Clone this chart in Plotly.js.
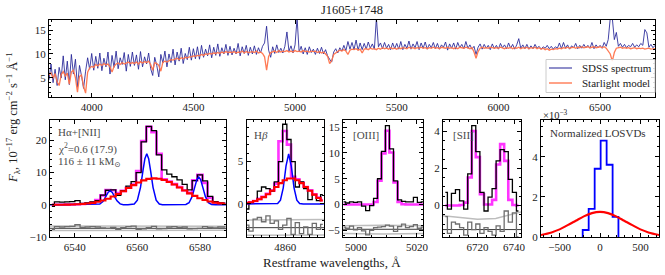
<!DOCTYPE html>
<html><head><meta charset="utf-8">
<script src="https://cdn.plot.ly/plotly-3.0.1.min.js"></script>
<style>html,body{margin:0;padding:0;background:#fff}#chart{width:665px;height:275px}</style>
</head><body><div id="chart"></div>
<script>
// ---------- top panel: full spectrum (10 A sampling) ----------
const specWl = [3790,3800,3810,3820,3830,3840,3850,3860,3870,3880,
3890,3900,3910,3920,3930,3940,3950,3960,3970,3980,
3990,4000,4010,4020,4030,4040,4050,4060,4070,4080,
4090,4100,4110,4120,4130,4140,4150,4160,4170,4180,
4190,4200,4210,4220,4230,4240,4250,4260,4270,4280,
4290,4300,4310,4320,4330,4340,4350,4360,4370,4380,
4390,4400,4410,4420,4430,4440,4450,4460,4470,4480,
4490,4500,4510,4520,4530,4540,4550,4560,4570,4580,
4590,4600,4610,4620,4630,4640,4650,4660,4670,4680,
4690,4700,4710,4720,4730,4740,4750,4760,4770,4780,
4790,4800,4810,4820,4830,4840,4850,4860,4870,4880,
4890,4900,4910,4920,4930,4940,4950,4960,4970,4980,
4990,5000,5010,5020,5030,5040,5050,5060,5070,5080,
5090,5100,5110,5120,5130,5140,5150,5160,5170,5180,
5190,5200,5210,5220,5230,5240,5250,5260,5270,5280,
5290,5300,5310,5320,5330,5340,5350,5360,5370,5380,
5390,5400,5410,5420,5430,5440,5450,5460,5470,5480,
5490,5500,5510,5520,5530,5540,5550,5560,5570,5580,
5590,5600,5610,5620,5630,5640,5650,5660,5670,5680,
5690,5700,5710,5720,5730,5740,5750,5760,5770,5780,
5790,5800,5810,5820,5830,5840,5850,5860,5870,5880,
5890,5900,5910,5920,5930,5940,5950,5960,5970,5980,
5990,6000,6010,6020,6030,6040,6050,6060,6070,6080,
6090,6100,6110,6120,6130,6140,6150,6160,6170,6180,
6190,6200,6210,6220,6230,6240,6250,6260,6270,6280,
6290,6300,6310,6320,6330,6340,6350,6360,6370,6380,
6390,6400,6410,6420,6430,6440,6450,6460,6470,6480,
6490,6500,6510,6520,6530,6540,6550,6560,6570,6580,
6590,6600,6610,6620,6630,6640,6650,6660,6670,6680,
6690,6700,6710,6720,6730,6740,6750,6760,6770];
const specFlux = [4.6,7.9,4.0,6.8,3.4,7.2,5.0,9.6,4.6,8.5,
3.6,9.9,5.8,8.9,3.0,7.6,5.4,2.8,6.4,9.2,
6.8,10.1,6.6,9.5,7.0,10.2,6.5,9.1,7.3,10.4,
5.8,9.7,7.2,10.6,6.9,9.2,7.8,10.3,6.4,9.9,
7.4,10.4,7.6,9.8,6.8,10.5,7.3,9.4,7.9,10.2,
6.9,5.5,9.3,7.6,5.2,9.9,8.1,10.6,7.3,10.0,
8.2,11.0,7.7,10.4,8.5,11.2,8.0,10.1,8.8,11.4,
8.7,11.1,9.0,11.5,8.9,11.8,9.3,11.0,9.6,11.9,
9.2,11.4,9.7,12.1,9.5,11.3,10.0,12.0,9.7,11.6,
9.8,11.2,10.0,12.2,9.6,11.5,10.1,11.8,9.7,11.4,
10.0,11.7,9.9,11.3,10.2,11.6,12.3,15.8,10.8,9.3,
11.5,10.1,11.9,10.3,11.2,10.2,11.6,14.6,10.6,11.7,
10.2,11.9,17.5,10.4,11.6,10.0,11.3,9.9,11.5,10.3,
11.0,9.9,11.2,10.1,11.4,10.0,10.9,9.6,8.9,8.3,
10.4,11.1,10.2,11.3,10.6,11.8,10.7,12.6,11.0,12.4,
10.9,12.9,10.8,12.3,10.9,12.2,11.0,12.5,11.2,12.1,
11.0,17.5,11.5,12.3,11.1,12.4,11.2,12.0,10.9,12.3,
11.1,12.2,11.0,12.6,10.9,12.0,11.2,12.7,11.0,12.1,
11.3,12.6,10.9,12.3,11.2,12.5,11.0,12.0,11.3,12.4,
11.1,12.2,11.0,11.9,11.4,12.5,10.8,12.1,11.2,12.3,
11.0,12.4,11.3,12.0,11.1,12.6,11.2,11.9,11.0,11.6,
9.9,11.4,12.1,11.0,12.0,11.2,11.8,10.9,12.1,11.1,
11.8,11.0,12.2,11.3,11.9,11.1,12.3,11.2,12.0,11.0,
11.9,13.2,11.2,11.9,11.1,12.0,11.0,11.7,11.1,12.0,
11.2,11.6,11.0,11.5,11.2,11.8,11.1,11.6,11.0,11.5,
11.2,12.3,11.1,12.4,11.2,11.9,11.0,11.7,11.3,12.2,
11.1,11.8,11.2,12.0,11.3,11.8,11.2,12.4,11.1,11.9,
11.3,11.8,11.2,12.4,11.6,13.0,17.5,17.5,13.0,14.5,
11.6,12.2,11.4,12.0,11.3,11.8,11.5,12.2,11.4,11.9,
11.5,12.2,11.8,15.1,14.4,11.4,12.0,11.3,11.8];
const modelFlux = [5.6,6.1,4.9,5.9,4.2,3.4,5.7,6.3,5.4,6.0,
3.7,6.2,6.6,5.0,2.0,5.3,5.6,3.2,1.8,6.2,
7.1,7.4,7.2,7.8,7.5,7.9,7.6,8.0,7.7,7.9,
7.3,6.2,7.4,7.9,8.1,7.8,8.2,7.9,8.1,8.3,
8.0,8.2,8.0,8.3,7.9,8.4,8.1,8.4,8.2,8.5,
7.8,6.6,8.2,8.0,7.6,6.4,8.3,8.5,8.3,8.6,
8.8,8.7,8.9,9.1,8.8,9.2,9.0,9.3,9.2,9.4,
9.4,9.6,9.5,9.7,9.6,9.9,9.7,10.0,9.9,10.1,
10.0,10.2,10.1,10.3,10.1,10.4,10.2,10.5,10.3,10.4,
10.3,10.5,10.2,10.4,10.3,10.6,10.2,10.5,10.3,10.4,
10.5,10.3,10.6,10.2,10.4,10.1,9.4,6.6,9.5,10.3,
10.5,10.6,10.3,10.7,10.4,10.6,10.5,10.7,10.4,10.6,
10.4,10.7,10.5,10.6,10.4,10.7,10.5,10.6,10.4,10.6,
10.5,10.6,10.3,10.5,10.2,10.4,10.0,9.5,8.0,8.6,
9.9,10.3,10.5,10.8,10.6,10.9,10.6,9.9,10.8,11.0,
10.9,11.1,10.8,11.0,10.2,11.0,11.1,10.9,11.2,11.0,
11.1,10.9,11.2,11.0,11.3,11.1,11.2,11.0,11.3,11.1,
11.2,11.0,11.3,11.1,11.3,11.2,11.1,11.4,11.2,11.3,
11.1,11.3,11.2,11.4,11.2,11.3,11.1,11.3,11.2,11.4,
11.2,11.3,11.1,11.4,11.3,11.2,11.4,11.2,11.3,11.1,
11.3,11.1,11.4,11.3,11.2,11.4,11.3,11.1,11.3,10.4,
9.1,10.5,11.2,11.4,11.2,11.3,11.2,11.4,11.3,11.2,
11.3,11.2,11.4,11.3,11.1,11.3,11.2,11.4,11.1,11.3,
11.2,11.4,11.1,11.3,11.2,11.4,11.1,11.3,11.2,11.4,
11.1,11.3,11.0,11.2,10.9,11.1,10.8,11.0,10.9,11.1,
11.0,11.2,11.1,11.3,11.2,11.4,11.2,11.3,11.4,11.2,
11.4,11.3,11.5,11.3,11.4,11.5,11.3,11.4,11.5,11.3,
11.4,11.5,11.3,11.5,11.2,10.6,10.0,8.5,10.3,11.2,
11.3,11.4,11.2,11.3,11.2,11.3,11.1,11.2,11.3,11.1,
11.2,11.1,11.2,11.0,11.1,11.2,11.0,11.1,11.1];
const legendNames = ['SDSS spectrum','Starlight model'];

// ---------- H-alpha + [NII] ----------
const haWl = [6532.7,6534.3,6536.0,6537.6,6539.2,6540.9,6542.5,6544.1,6545.7,6547.4,6549.0,6550.6,6552.3,6553.9,6555.5,6557.2,6558.8,6560.4,6562.0,6563.7,6565.3,6566.9,6568.6,6570.2,6571.8,6573.5,6575.1,6576.7,6578.3,6580.0,6581.6,6583.2,6584.9,6586.5,6588.1];
const haObs = [-0.5,0.9,0.8,0.9,1.0,1.3,0.4,0.6,0.9,1.3,3.0,4.5,4.6,2.9,4.4,5.8,7.2,10.0,19.5,24.3,23.0,15.5,10.8,9.5,8.7,7.7,6.3,4.6,7.5,9.3,7.4,2.6,1.0,0.6,0.5];
const haModel = [0.01,0.01,0.02,0.05,0.08,0.15,0.24,0.39,0.60,1.5,2.9,4.6,4.5,3.6,4.3,5.3,6.3,10.5,19.8,24.2,22.5,15.8,7.9,7.2,6.4,5.5,4.5,3.7,7.6,9.3,6.8,2.2,0.8,0.45,0.3];
const haBroad = [0.01,0.01,0.02,0.05,0.08,0.15,0.24,0.39,0.60,0.92,1.34,1.87,2.57,3.34,4.21,5.18,6.08,6.90,7.56,8.03,8.20,8.09,7.69,7.08,6.29,5.35,4.44,3.55,2.76,2.02,1.46,1.02,0.67,0.43,0.27];
const haResid = [-7.6,-6.8,-6.9,-6.8,-6.7,-6.2,-7.0,-6.9,-6.8,-6.9,-7.2,-7.3,-7.0,-7.6,-7.1,-6.8,-6.6,-7.6,-7.5,-7.1,-6.7,-7.5,-7.4,-6.9,-6.8,-7.0,-6.9,-7.5,-7.4,-7.3,-6.8,-7.0,-7.2,-6.9,-6.9];
const haNarrowWl = [6532.0,6545.0,6547.0,6548.0,6549.0,6550.0,6550.7,6551.3,6552.0,6552.7,6553.5,6554.5,6555.5,6557.0,6558.0,6559.0,6560.0,6561.0,6561.8,6562.4,6563.0,6563.6,6564.2,6565.0,6566.0,6567.0,6568.0,6574.5,6575.5,6576.5,6577.5,6578.3,6579.0,6579.6,6580.2,6580.9,6581.7,6582.7,6583.7,6585.0,6588.5];
const haNarrow = [0,0,0.03,0.23,1.0,2.7,3.9,4.3,3.8,2.5,1.2,0.27,0.03,0,0.02,0.21,1.4,5.4,10.7,14.3,15.8,14.3,10.7,5.4,1.4,0.21,0.02,0,0.09,0.64,2.6,5.4,7.8,8.6,7.8,5.4,2.6,0.64,0.09,0,0];
const haErrWl = [6531.5,6545,6560,6575,6589];
const haErrHi = [-6.6,-6.6,-6.5,-6.6,-6.7];
const haErrLo = [-8.0,-8.0,-8.1,-8.0,-7.9];

// ---------- H-beta ----------
const hbWl = [4850.4,4851.4,4852.5,4853.5,4854.6,4855.7,4856.7,4857.8,4858.8,4859.9,4860.9,4862.0,4863.0,4864.1,4865.1,4866.2,4867.3,4868.3,4869.4];
const hbObs = [-0.6,0.1,0.4,1.5,2.0,1.8,1.5,2.6,5.0,9.4,7.6,5.0,2.0,2.6,1.8,0.5,1.1,0.4,1.1];
const hbModel = [0.1,0.2,0.35,0.6,0.85,1.2,1.6,2.4,7.4,8.6,7.0,3.2,2.9,2.5,2.0,1.6,1.15,0.75,0.45];
const hbBroad = [0.1,0.2,0.35,0.55,0.8,1.15,1.55,2.0,2.45,2.8,3.0,3.0,2.8,2.45,2.0,1.55,1.1,0.7,0.4];
const hbResid = [-2.5,-3.2,-1.8,-1.6,-2.1,-1.4,-2.3,-2.0,-3.0,-2.5,-1.7,-3.6,-2.2,-3.5,-2.7,-3.6,-2.3,-3.0,-2.4];
const hbNarrowWl = [4850.0,4857.0,4858.1,4858.8,4859.5,4860.2,4860.85,4861.5,4862.2,4862.9,4863.6,4864.5,4869.8];
const hbNarrow = [0,0.02,0.06,0.44,1.9,4.5,5.9,4.5,1.9,0.44,0.06,0,0];
const hbErrWl = [4850.0,4860,4869.8];
const hbErrHi = [-1.9,-1.9,-1.85];
const hbErrLo = [-3.7,-3.7,-3.65];

// ---------- [OIII] ----------
const o3Wl = [4995.9,4997.2,4998.5,4999.8,5001.1,5002.5,5003.8,5005.1,5006.4,5007.7,5009.0,5010.3,5011.6,5013.0,5014.3,5015.6,5016.9,5018.2,5019.5,5020.8,5022.1];
const o3Obs = [0.5,0.3,0.5,0.4,0.5,-0.3,-1.2,-0.2,1.2,5.0,10.3,15.3,10.8,4.6,0.9,0.6,0.5,0.5,1.4,0.4,0.5];
const o3Model = [0,0,0,0,0,0,0,0,0.5,4.6,9.9,14.3,10.1,4.3,0.5,0.05,0,0,0,0,0];
const o3Resid = [-4.4,-4.6,-4.2,-4.9,-4.5,-5.1,-5.9,-5.0,-4.5,-4.4,-4.3,-4.0,-4.2,-5.2,-4.3,-3.8,-4.5,-4.3,-3.9,-4.6,-4.4];
const o3ErrWl = [4995.5,5009,5022.3];
const o3ErrHi = [-4.1,-4.0,-4.1];
const o3ErrLo = [-5.6,-5.7,-5.6];

// ---------- [SII] ----------
const s2Wl = [6702.5,6704.7,6706.9,6709.1,6711.4,6713.6,6715.8,6718.0,6720.2,6722.5,6724.7,6726.9,6729.1,6731.3,6733.5,6735.7,6738.0,6740.2,6742.4];
const s2Obs = [0.7,-0.2,0.65,0.85,0.25,-0.2,1.7,4.3,2.9,0.7,-0.3,0.45,0.9,2.4,3.0,2.9,1.4,0.7,-0.3];
const s2Model = [0,0,0,0,0.02,0.15,1.5,4.0,2.6,0.6,0.05,0.05,0.3,2.2,3.3,2.4,0.3,0.02,0];
const s2Resid = [-0.6,-1.5,-0.9,-1.0,-1.2,-1.6,-0.9,-1.3,-1.0,-1.5,-1.2,-1.4,-1.6,-1.1,-1.4,-0.3,-0.9,-0.4,-1.7];
const s2ErrWl = [6701.0,6710,6720,6730,6744.0];
const s2ErrHi = [-0.55,-0.65,-0.75,-0.7,-0.35];

// residual zero levels for Ha, Hb, [OIII], [SII]
const residLevels = [-7.3,-2.8,-4.8,-1.3];

// ---------- LOSVDs (units of 1e-3) ----------
const losvdEdges = [-214,-214,-140,-66,8,82,156,228,228];
const losvdNarrow = [0,0.35,1.4,3.4,4.8,3.6,1.0,1.0,0];
const losvdV = [-730,-600,-500,-400,-300,-200,-100,0,100,200,300,400,500,600,730];
const losvdBroad = [0.10,0.23,0.38,0.59,0.81,1.03,1.19,1.25,1.19,1.03,0.81,0.59,0.38,0.23,0.10];

// ---------- build ----------
const SERIF = '"Liberation Serif","DejaVu Serif",serif';
const SDSS_C = 'rgba(35,35,150,0.85)', SL_C = 'rgba(255,115,75,0.95)';
const traces = [];
function line(x, y, xa, ya, color, width, shape, extra) {
  traces.push(Object.assign({type:'scatter', mode:'lines', x:x, y:y, xaxis:xa, yaxis:ya,
    line:{color:color, width:width, shape:shape||'linear'}, showlegend:false, hoverinfo:'skip'}, extra||{}));
}
line(specWl, specFlux, 'x', 'y', SDSS_C, 1, 'linear', {name:legendNames[0]});
line(specWl, modelFlux, 'x', 'y', SL_C, 1.3, 'linear', {name:legendNames[1]});

function panel(xa, ya, wl, obs, model, resid, level, errWl, errHi, errLo) {
  line(errWl, errHi, xa, ya, '#bdbdbd', 1.5);
  if (errLo) line(errWl, errLo, xa, ya, '#bdbdbd', 1.5);
  line([errWl[0], errWl[errWl.length-1]], [level, level], xa, ya, '#3a3a3a', 1);
  line(wl, resid, xa, ya, '#6e6e6e', 1.3, 'hvh');
  line(wl, model, xa, ya, '#ff33ff', 2.6, 'hvh');
  line(wl, obs, xa, ya, '#000000', 1.3, 'hvh');
}
panel('x2','y2', haWl, haObs, haModel, haResid, residLevels[0], haErrWl, haErrHi, haErrLo);
line(haNarrowWl, haNarrow, 'x2', 'y2', '#0000ff', 1.5);
line(haWl, haBroad, 'x2', 'y2', '#ff0000', 2.1, 'hvh');

panel('x3','y3', hbWl, hbObs, hbModel, hbResid, residLevels[1], hbErrWl, hbErrHi, hbErrLo);
line(hbNarrowWl, hbNarrow, 'x3', 'y3', '#0000ff', 1.5);
line(hbWl, hbBroad, 'x3', 'y3', '#ff0000', 2.1, 'hvh');

panel('x4','y4', o3Wl, o3Obs, o3Model, o3Resid, residLevels[2], o3ErrWl, o3ErrHi, o3ErrLo);
panel('x5','y5', s2Wl, s2Obs, s2Model, s2Resid, residLevels[3], s2ErrWl, s2ErrHi, null);

line(losvdEdges, losvdNarrow, 'x6', 'y6', '#0000ff', 1.8, 'hv');
line(losvdV, losvdBroad, 'x6', 'y6', '#ff0000', 2.1, 'spline');

function ax(domain, range, dtick, tick0, minor, anchor, extra) {
  return Object.assign({domain:domain, range:range, dtick:dtick, tick0:tick0, anchor:anchor,
    showline:true, mirror:'allticks', linecolor:'#000', linewidth:1, ticks:'inside', ticklen:4,
    tickcolor:'#000', tickwidth:1, showgrid:false, zeroline:false,
    tickfont:{family:SERIF, size:11, color:'#222'},
    minor:{ticks:'inside', ticklen:2, dtick:minor, tick0:tick0, tickcolor:'#000', showgrid:false}}, extra||{});
}
const W = 665, H = 275;
const px = (a,b) => [a/W, b/W];
const py = (top,bot) => [1-bot/H, 1-top/H];
const bottomY = py(120, 237);

const ann = [];
function txt(t, x, y, size, opts) {
  ann.push(Object.assign({text:t, x:x/W, y:1-y/H, xref:'paper', yref:'paper', showarrow:false,
    font:{family:SERIF, size:size, color:'#222'}, xanchor:'left', yanchor:'middle'}, opts||{}));
}
const LBL = {family:SERIF, size:11, color:'#4a4a4a'};
txt('J1605+1748', 352, 10, 12.5, {xanchor:'center'});
txt('<i>F</i><sub>λ</sub>, 10<sup>−17</sup> erg cm<sup>−2</sup> s<sup>−1</sup> Å<sup>−1</sup>', 13, 118, 12.5, {xanchor:'center', textangle:-90});
txt('Restframe wavelengths, Å', 332, 262, 13, {xanchor:'center'});
txt('Hα+[NII]', 56, 132, 11, {font:LBL});
txt('χ<sup>2</sup>=0.6 (17.9)', 56, 148, 11, {font:LBL});
txt('116 ± 11 kM<sub>⊙</sub>', 56, 162, 11, {font:LBL});
txt('H<i>β</i>', 252, 135, 11, {font:LBL});
txt('[OIII]', 351, 135, 11, {font:LBL});
txt('[SII]', 451, 135, 11, {font:LBL});
txt('Normalized LOSVDs', 598, 133, 11, {xanchor:'center', font:{family:SERIF,size:11,color:'#333'}});
txt('×10<sup>−3</sup>', 541, 114, 10.5);

// legend drawn as a compact box (matplotlib style)
txt(legendNames[0], 580, 68, 11);
txt(legendNames[1], 580, 83, 11);
const shapes = [
  {type:'rect', xref:'paper', yref:'paper', x0:546/W, x1:655/W, y0:1-92.5/H, y1:1-59.5/H,
   fillcolor:'rgba(255,255,255,0.85)', line:{color:'#cccccc', width:1}},
  {type:'line', xref:'paper', yref:'paper', x0:549/W, x1:572/W, y0:1-68/H, y1:1-68/H, line:{color:SDSS_C, width:1.2}},
  {type:'line', xref:'paper', yref:'paper', x0:549/W, x1:572/W, y0:1-83/H, y1:1-83/H, line:{color:SL_C, width:1.4}}
];

const layout = {
  width:W, height:H, margin:{l:0,r:0,t:0,b:0}, paper_bgcolor:'#fff', plot_bgcolor:'#fff',
  showlegend:false,
  xaxis: ax(px(49,655), [3790,6770], 500, 4000, 100, 'y'),
  yaxis: ax(py(20,97), [1.0,17.1], 5, 0, 1, 'x'),
  xaxis2: ax(px(50,226), [6532.1,6588.3], 20, 6540, 5, 'y2'),
  yaxis2: ax(bottomY, [-10,26.3], 10, 0, 2, 'x2'),
  xaxis3: ax(px(246.5,324), [4850.3,4869.7], 10, 4860, 2, 'y3'),
  yaxis3: ax(bottomY, [-3.9,9.9], 5, 0, 1, 'x3'),
  xaxis4: ax(px(343,423), [4995.7,5022.0], 20, 5000, 5, 'y4'),
  yaxis4: ax(bottomY, [-6.3,16.4], 5, 0, 1, 'x4'),
  xaxis5: ax(px(443,521), [6701.2,6743.8], 20, 6720, 5, 'y5'),
  yaxis5: ax(bottomY, [-1.7,4.6], 2, 0, 0.5, 'x5'),
  xaxis6: ax(px(541,659), [-730,730], 500, 0, 100, 'y6'),
  yaxis6: ax(bottomY, [0,5.83], 2, 0, 0.5, 'x6'),
  shapes: shapes,
  annotations: ann
};
Plotly.newPlot('chart', traces, layout, {staticPlot:true, displayModeBar:false});
</script>
</body></html>
